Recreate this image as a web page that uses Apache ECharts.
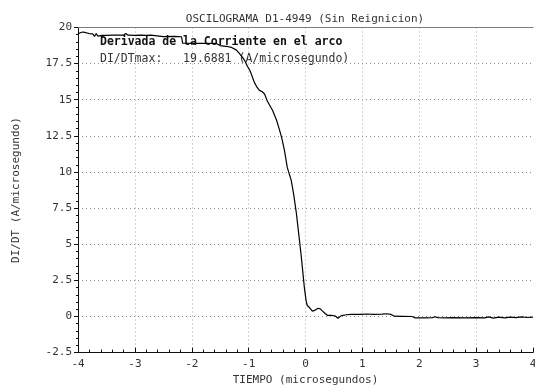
<!DOCTYPE html>
<html>
<head>
<meta charset="utf-8">
<script src="https://cdn.jsdelivr.net/npm/echarts@6/dist/echarts.min.js"></script>
<style>
  html, body { margin: 0; padding: 0; background: #fff; }
  #chart { width: 535px; height: 392px; }
</style>
</head>
<body>
<div id="chart"></div>
<script>
// Time axis (microseconds) and di/dt samples (A/microsecond)
var tiempo = [
  -4.00, -3.96, -3.92, -3.88, -3.84, -3.80, -3.77, -3.74, -3.71, -3.68,
  -3.65, -3.62, -3.58, -3.50, -3.40, -3.30, -3.20, -3.16, -3.12, -3.00,
  -2.90, -2.80, -2.72, -2.70, -2.50, -2.30, -2.18, -2.16, -1.90, -1.70,
  -1.56, -1.50, -1.40, -1.30, -1.22, -1.16, -1.10, -1.06, -1.02, -0.98,
  -0.95, -0.90, -0.85, -0.81, -0.76, -0.72, -0.67, -0.62, -0.58, -0.51,
  -0.46, -0.42, -0.37, -0.32, -0.28, -0.25, -0.21, -0.16, -0.12, -0.08,
  -0.05, -0.02, 0.01, 0.03, 0.07, 0.12, 0.16, 0.22, 0.26, 0.30,
  0.35, 0.39, 0.47, 0.53, 0.57, 0.63, 0.72, 0.80, 0.90, 0.98,
  1.07, 1.20, 1.35, 1.42, 1.50, 1.56, 1.70, 1.88, 1.92, 2.10,
  2.23, 2.28, 2.32, 2.47, 2.60, 2.80, 3.00, 3.15, 3.22, 3.30,
  3.40, 3.50, 3.60, 3.70, 3.80, 3.90, 4.00
];
var didt = [
  19.55, 19.64, 19.6881, 19.66, 19.62, 19.58, 19.45, 19.56, 19.38, 19.58,
  19.40, 19.52, 19.45, 19.46, 19.47, 19.48, 19.47, 19.58, 19.47, 19.46,
  19.47, 19.46, 19.47, 19.38, 19.37, 19.38, 19.36, 18.92, 18.90, 18.91,
  18.88, 18.75, 18.70, 18.62, 18.45, 18.20, 17.90, 17.65, 17.30, 17.05,
  16.75, 16.20, 15.85, 15.65, 15.55, 15.40, 14.90, 14.55, 14.27, 13.60,
  12.95, 12.40, 11.50, 10.30, 9.80, 9.40, 8.50, 7.13, 5.75, 4.36,
  3.19, 2.00, 1.10, 0.76, 0.62, 0.37, 0.42, 0.57, 0.53, 0.37,
  0.19, 0.07, 0.07, 0.02, -0.12, 0.06, 0.12, 0.14, 0.15, 0.14,
  0.17, 0.15, 0.16, 0.19, 0.15, 0.02, 0.01, 0.00, -0.09, -0.09,
  -0.08, -0.02, -0.08, -0.10, -0.08, -0.09, -0.08, -0.10, -0.03, -0.11,
  -0.05, -0.10, -0.04, -0.08, -0.03, -0.07, -0.04
];

var titulo = 'OSCILOGRAMA D1-4949 (Sin Reignicion)';
var leyenda = 'Derivada de la Corriente en el arco';
var ejeX = 'TIEMPO (microsegundos)';
var ejeY = 'DI/DT (A/microsegundo)';

var FONT = '"DejaVu Sans Mono", "Liberation Mono", monospace';
var maxVal = Math.max.apply(null, didt);
var puntos = tiempo.map(function (t, i) { return [t, didt[i]]; });

var chart = echarts.init(document.getElementById('chart'), null, { renderer: 'canvas' });
chart.setOption({
  animation: false,
  backgroundColor: '#ffffff',
  title: {
    text: titulo,
    left: 300, top: 9, textAlign: 'center',
    textStyle: { fontFamily: FONT, fontSize: 11, fontWeight: 'normal', color: '#333' }
  },
  grid: { left: 78, right: 2, top: 27.5, bottom: 39.4, outerBoundsMode: 'none', containLabel: false },
  xAxis: [{
    type: 'value', min: -4, max: 4, interval: 1,
    name: ejeX, nameLocation: 'middle', nameGap: 22,
    nameTextStyle: { fontFamily: FONT, fontSize: 11, color: '#333' },
    axisLine: { onZero: false, lineStyle: { color: '#111', width: 1 } },
    axisTick: { inside: true, length: 5, lineStyle: { color: '#111' } },
    minorTick: { show: true, splitNumber: 5, length: 3, lineStyle: { color: '#111' } },
    axisLabel: { fontFamily: FONT, fontSize: 11, color: '#333', margin: 6 },
    splitLine: { show: true, showMinLine: false, showMaxLine: false,
      lineStyle: { color: '#a8a8a8', type: [1, 3], width: 1 } }
  }, {
    type: 'value', position: 'top', min: -4, max: 4,
    axisLine: { show: true, onZero: false, lineStyle: { color: '#7a7a7a', width: 1.2 } },
    axisTick: { show: false }, axisLabel: { show: false }, splitLine: { show: false }
  }],
  yAxis: {
    type: 'value', min: -2.5, max: 20, interval: 2.5,
    name: ejeY, nameLocation: 'middle', nameGap: 56, nameRotate: 90,
    nameTextStyle: { fontFamily: FONT, fontSize: 11, color: '#333' },
    axisLine: { show: true, onZero: false, lineStyle: { color: '#111', width: 1 } },
    axisTick: { length: 4, lineStyle: { color: '#111' } },
    minorTick: { show: true, splitNumber: 5, length: 2, lineStyle: { color: '#111' } },
    axisLabel: { fontFamily: FONT, fontSize: 11, color: '#333', margin: 6 },
    splitLine: { show: true, showMinLine: false, showMaxLine: false,
      lineStyle: { color: '#8c8c8c', type: [1, 3], width: 1 } }
  },
  graphic: [{
    type: 'text', left: 100, top: 36,
    style: { text: leyenda, font: 'bold 11.5px ' + FONT, fill: '#111' }
  }, {
    type: 'text', left: 100, top: 53,
    style: {
      text: 'DI/DTmax:   ' + maxVal.toFixed(4) + ' (A/microsegundo)',
      font: '11.5px ' + FONT, fill: '#333'
    }
  }],
  series: [{
    type: 'line', data: puntos, showSymbol: false, smooth: false,
    lineStyle: { color: '#000', width: 1.2 }, z: 1
  }]
});
</script>
</body>
</html>
